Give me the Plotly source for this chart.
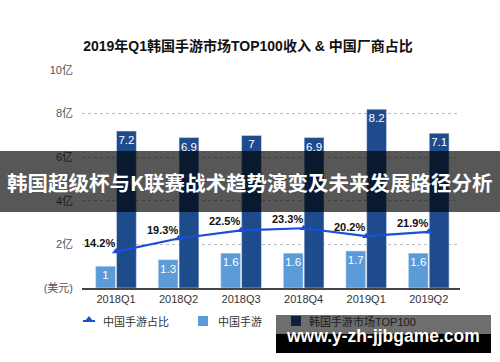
import plotly.graph_objects as go

# ---------------- data ----------------
quarters = ["2018Q1", "2018Q2", "2018Q3", "2018Q4", "2019Q1", "2019Q2"]
china_rev = [1, 1.3, 1.6, 1.6, 1.7, 1.6]            # 中国手游 (亿美元)
korea_top100 = [7.2, 6.9, 7, 6.9, 8.2, 7.1]          # 韩国手游市场TOP100 (亿美元)
china_share = [14.2, 19.3, 22.5, 23.3, 20.2, 21.9]   # 中国手游占比 (%)
y_tickvals = [0, 2, 4, 6, 8, 10]
y_ticktext = ["(美元)", "2亿", "4亿", "6亿", "8亿", "10亿"]

title_text = "2019年Q1韩国手游市场TOP100收入 & 中国厂商占比"
banner_text = "韩国超级杯与K联赛战术趋势演变及未来发展路径分析"
watermark_text = "www.y-zh-jjbgame.com"
legend_names = ["中国手游占比", "中国手游", "韩国手游市场TOP100"]

# ---------------- style ----------------
W, H = 500, 362
L, R, T, B = 82, 40, 70, 74
PW, PH = W - L - R, H - T - B
FONT = "Liberation Sans, Noto Sans CJK SC, sans-serif"
CJK = "Noto Sans CJK SC, sans-serif"
LIGHT = "#5a9bd8"
DARK = "#1d4b8c"
LINE = "#1b4fd8"


def px(x):
    return (x - L) / PW


def py(y):
    return (H - B - y) / PH


fig = go.Figure()
fig.add_trace(go.Bar(
    x=quarters, y=china_rev, name=legend_names[1], marker_color=LIGHT,
    texttemplate="%{y}", textposition="inside", insidetextanchor="end",
    constraintext="none",
    textfont=dict(color="white", size=11.5, family=FONT), textangle=0,
))
fig.add_trace(go.Bar(
    x=quarters, y=korea_top100, name=legend_names[2], marker_color=DARK,
    texttemplate="%{y}", textposition="inside", insidetextanchor="end",
    constraintext="none",
    textfont=dict(color="white", size=11.5, family=FONT), textangle=0,
))
fig.add_trace(go.Scatter(
    x=quarters, y=china_share, name=legend_names[0], yaxis="y2",
    mode="lines+markers", line=dict(color=LINE, width=2.2),
    marker=dict(symbol="triangle-up", size=7, color=LINE),
    cliponaxis=False,
))

shapes = []
ann = []

# percentage labels, anchored to the line points
for q, v in zip(quarters, china_share):
    ann.append(dict(text=f"{v}%", x=q, y=v, xref="x", yref="y2",
                    xanchor="right", yanchor="bottom", xshift=1, yshift=1,
                    font=dict(color="#111", size=11, family=FONT, weight="bold")))

# manual legend
ly = 321
shapes.append(dict(type="line", xref="paper", yref="paper", x0=px(83), x1=px(95),
                   y0=py(ly), y1=py(ly), line=dict(color=LINE, width=2)))
shapes.append(dict(type="path", xref="paper", yref="paper",
                   path=f"M {px(85)} {py(ly)} L {px(93)} {py(ly)} L {px(89)} {py(ly - 5)} Z",
                   fillcolor=LINE, line=dict(width=0)))
shapes.append(dict(type="rect", xref="paper", yref="paper", x0=px(198), x1=px(208),
                   y0=py(326), y1=py(316), fillcolor=LIGHT, line=dict(width=0)))
shapes.append(dict(type="rect", xref="paper", yref="paper", x0=px(291), x1=px(301),
                   y0=py(326), y1=py(316), fillcolor=DARK, line=dict(width=0)))
ann.append(dict(text=legend_names[0], x=px(101), y=py(ly), xanchor="left", yanchor="middle"))
ann.append(dict(text=legend_names[1], x=px(216), y=py(ly), xanchor="left", yanchor="middle"))
ann.append(dict(text=legend_names[2], x=px(307), y=py(ly), xanchor="left", yanchor="middle",
                font=dict(color="#1c1c1c", size=11, family=FONT)))

# overlay banner
shapes.append(dict(type="rect", xref="paper", yref="paper", x0=px(0), x1=px(500),
                   y0=py(212), y1=py(151), fillcolor="rgba(0,0,0,0.66)",
                   line=dict(width=0), layer="above"))
ann.append(dict(text=banner_text, x=px(250), y=py(182), xanchor="center", yanchor="middle",
                font=dict(color="white", size=20.5, family=CJK, weight="bold")))

# watermark box
shapes.append(dict(type="rect", xref="paper", yref="paper", x0=px(276), x1=px(491),
                   y0=py(334), y1=py(315), fillcolor="rgba(0,0,0,0.57)",
                   line=dict(width=0), layer="above"))
shapes.append(dict(type="rect", xref="paper", yref="paper", x0=px(276), x1=px(491),
                   y0=py(353), y1=py(334), fillcolor="black",
                   line=dict(width=0), layer="above"))
ann.append(dict(text=watermark_text, x=px(383), y=py(336), xanchor="center", yanchor="middle",
                font=dict(color="white", size=17.5, family=FONT, weight="bold")))

for a in ann:
    a.setdefault("xref", "paper")
    a.setdefault("yref", "paper")
    a.setdefault("showarrow", False)
    a.setdefault("font", dict(color="#333", size=11, family=FONT))

fig.update_layout(
    width=W, height=H,
    margin=dict(l=L, r=R, t=T, b=B, pad=0),
    paper_bgcolor="white", plot_bgcolor="white",
    barmode="group", bargap=0.333, bargroupgap=0.05,
    showlegend=False,
    font=dict(family=FONT, size=11, color="#333"),
    title=dict(text=title_text, x=248 / W, xanchor="center", y=1 - 46 / H, yanchor="middle",
               font=dict(family=FONT, size=14, color="#111", weight="bold")),
    xaxis=dict(showline=True, linecolor="#444", linewidth=1.5, ticks="",
               tickfont=dict(size=11, color="#333"), showgrid=False),
    yaxis=dict(range=[0, 10], tickvals=y_tickvals, ticktext=y_ticktext,
               showgrid=True, gridcolor="#bbbbbb", griddash="dot", gridwidth=1,
               zeroline=False, ticks="", ticklabelstandoff=8,
               tickfont=dict(size=11, color="#555")),
    yaxis2=dict(range=[0, 85], overlaying="y", side="right", showgrid=False,
                showticklabels=False, zeroline=False, ticks=""),
    shapes=shapes, annotations=ann,
)

fig.write_html("out.html", config={"displayModeBar": False},
               post_script="document.body.style.margin='0';")
